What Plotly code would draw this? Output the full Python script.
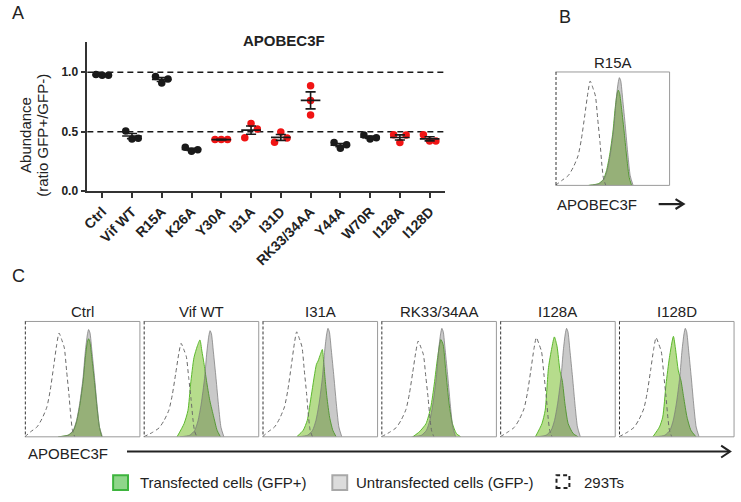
import plotly.graph_objects as go

W, H = 741, 502
FONT = "Arial, Liberation Sans, sans-serif"


def px(x):
    return x / W


def py(y):
    return 1 - y / H


# ---------------- Panel A data ----------------
categories = ["Ctrl", "Vif WT", "R15A", "K26A", "Y30A", "I31A", "I31D",
              "RK33/34AA", "Y44A", "W70R", "I128A", "I128D"]
rep1 = [0.980, 0.506, 0.964, 0.370, 0.434, 0.450, 0.412, 0.887, 0.409, 0.472, 0.475, 0.475]
rep2 = [0.975, 0.440, 0.909, 0.337, 0.434, 0.569, 0.497, 0.762, 0.362, 0.440, 0.409, 0.423]
rep3 = [0.975, 0.445, 0.942, 0.348, 0.434, 0.522, 0.448, 0.641, 0.390, 0.450, 0.472, 0.423]
highlight = [False, False, False, False, True, True, True, True, False, False, True, True]
y_ticks = [0.0, 0.5, 1.0]
ref_lines = [0.5, 1.0]

# ---------------- Histogram data (B and C) ----------------
hist_panels = ["R15A", "Ctrl", "Vif WT", "I31A", "RK33/34AA", "I128A", "I128D"]

# 293Ts (dashed) shape
dash_x = [0.0, 0.049, 0.106, 0.149, 0.191, 0.22, 0.249, 0.277, 0.297, 0.32,
          0.343, 0.363, 0.383, 0.4, 0.414, 0.434]
dash_y = [0.0, 0.043, 0.086, 0.157, 0.257, 0.4, 0.6, 0.8, 0.9, 0.843,
          0.771, 0.571, 0.371, 0.171, 0.057, 0.0]
dash_peak_x = [0.304, 0.297, 0.325, 0.297, 0.320, 0.314, 0.322]
dash_peak_h = [0.92, 0.90, 0.81, 0.91, 0.83, 0.86, 0.86]

# Untransfected (GFP-) shape, relative to its peak
gray_dx = [-0.263, -0.177, -0.134, -0.105, -0.077, -0.048, -0.028, -0.011, 0.0,
           0.012, 0.029, 0.052, 0.075, 0.095, 0.12]
gray_rel = [0.0, 0.015, 0.06, 0.15, 0.31, 0.55, 0.8, 0.95, 1.0,
            0.97, 0.8, 0.55, 0.28, 0.09, 0.0]
gray_peak_x = [0.560, 0.554, 0.577, 0.569, 0.526, 0.577, 0.576]
gray_peak_h = [0.95, 0.93, 0.92, 0.94, 0.94, 0.94, 0.94]

# Transfected (GFP+) curves per panel
green_x = [
    [0.29, 0.375, 0.418, 0.447, 0.475, 0.503, 0.523, 0.54, 0.55, 0.562, 0.58, 0.603, 0.626, 0.646, 0.667],
    [0.29, 0.377, 0.42, 0.449, 0.477, 0.506, 0.526, 0.543, 0.554, 0.566, 0.583, 0.606, 0.629, 0.649, 0.669],
    [0.29, 0.351, 0.385, 0.408, 0.437, 0.466, 0.489, 0.506, 0.523, 0.546, 0.575, 0.609, 0.638, 0.667],
    [0.297, 0.354, 0.389, 0.426, 0.469, 0.483, 0.503, 0.52, 0.531, 0.543, 0.56, 0.583, 0.611, 0.64],
    [0.273, 0.33, 0.388, 0.43, 0.46, 0.489, 0.517, 0.537, 0.56, 0.589, 0.618, 0.652, 0.69],
    [0.306, 0.363, 0.391, 0.42, 0.449, 0.471, 0.494, 0.52, 0.54, 0.563, 0.591, 0.634, 0.677],
    [0.294, 0.352, 0.38, 0.409, 0.438, 0.473, 0.49, 0.516, 0.539, 0.562, 0.591, 0.625, 0.669],
]
green_y = [
    [0, 0.015, 0.05, 0.13, 0.27, 0.47, 0.68, 0.81, 0.84, 0.81, 0.67, 0.46, 0.23, 0.07, 0],
    [0, 0.015, 0.05, 0.13, 0.27, 0.48, 0.69, 0.82, 0.85, 0.82, 0.68, 0.47, 0.24, 0.08, 0],
    [0, 0.114, 0.229, 0.457, 0.686, 0.786, 0.84, 0.743, 0.643, 0.486, 0.314, 0.171, 0.057, 0],
    [0, 0.057, 0.143, 0.371, 0.629, 0.657, 0.714, 0.757, 0.657, 0.514, 0.343, 0.171, 0.057, 0],
    [0, 0.043, 0.114, 0.257, 0.457, 0.686, 0.843, 0.8, 0.571, 0.286, 0.114, 0.029, 0],
    [0, 0.114, 0.229, 0.6, 0.771, 0.866, 0.786, 0.571, 0.486, 0.286, 0.114, 0.029, 0],
    [0, 0.086, 0.171, 0.457, 0.686, 0.871, 0.771, 0.571, 0.486, 0.343, 0.171, 0.057, 0],
]

legend_labels = ["Transfected cells (GFP+)", "Untransfected cells (GFP-)", "293Ts"]

# ---------------- Build figure ----------------
fig = go.Figure()

BLACK = "#1a1a1a"
RED = "#f01414"

# Panel A points
for i, cat in enumerate(categories):
    vals = [rep1[i], rep2[i], rep3[i]]
    spread = 0.0 if (max(vals) - min(vals)) > 0.15 else 0.21
    xs = [i - spread, i, i + spread]
    fig.add_trace(go.Scatter(
        x=xs, y=vals, mode="markers", xaxis="x", yaxis="y",
        marker=dict(size=7.5, color=RED if highlight[i] else BLACK, line=dict(width=0)),
        showlegend=False, hoverinfo="skip"))

# Mean and SEM
mx, my, ex, ey = [], [], [], []
for i in range(len(categories)):
    vals = [rep1[i], rep2[i], rep3[i]]
    m = sum(vals) / 3
    sd = (sum((v - m) ** 2 for v in vals) / 2) ** 0.5
    s = sd / 3 ** 0.5
    mx += [i - 0.33, i + 0.33, None]
    my += [m, m, None]
    ex += [i, i, None, i - 0.17, i + 0.17, None, i - 0.17, i + 0.17, None]
    ey += [m - s, m + s, None, m + s, m + s, None, m - s, m - s, None]
fig.add_trace(go.Scatter(x=mx, y=my, mode="lines", xaxis="x", yaxis="y",
                         line=dict(color=BLACK, width=1.6), showlegend=False, hoverinfo="skip"))
fig.add_trace(go.Scatter(x=ex, y=ey, mode="lines", xaxis="x", yaxis="y",
                         line=dict(color=BLACK, width=1.6), showlegend=False, hoverinfo="skip"))

shapes = []
for v in ref_lines:
    shapes.append(dict(type="line", xref="x domain", yref="y", x0=0, x1=1, y0=v, y1=v,
                       line=dict(color=BLACK, width=1.5, dash="6px,4px"), layer="below"))

# Histogram panels geometry (pixels)
box_left = [554] + [19 + 119.8 * k for k in range(6)]
box_width = [115] + [116] * 6
box_top = [73] + [326] * 6
box_bottom = [188] + [443] * 6

GREEN_FILL = "#b6dc8c"
GREEN_LINE = "#5cb82e"
GRAY_FILL = "rgba(77,77,77,0.30)"
GRAY_LINE = "rgba(120,120,120,0.9)"

layout_axes = {}
annotations = []
for k, name in enumerate(hist_panels):
    n = k + 2
    xa, ya = f"x{n}", f"y{n}"
    # green
    fig.add_trace(go.Scatter(x=green_x[k], y=green_y[k], mode="lines", xaxis=xa, yaxis=ya,
                             line=dict(color=GREEN_LINE, width=1, shape="spline", smoothing=0.6),
                             fill="tozeroy", fillcolor=GREEN_FILL,
                             showlegend=False, hoverinfo="skip"))
    # gray
    gx = [gray_peak_x[k] + d for d in gray_dx]
    gy = [gray_peak_h[k] * r for r in gray_rel]
    fig.add_trace(go.Scatter(x=gx, y=gy, mode="lines", xaxis=xa, yaxis=ya,
                             line=dict(color=GRAY_LINE, width=0.8, shape="spline", smoothing=0.6),
                             fill="tozeroy", fillcolor=GRAY_FILL,
                             showlegend=False, hoverinfo="skip"))
    # dashed 293Ts
    shift = dash_peak_x[k] - 0.297
    scale = dash_peak_h[k] / 0.9
    dx = [v + shift if v > 0 else v for v in dash_x]
    dy = [v * scale for v in dash_y]
    fig.add_trace(go.Scatter(x=dx, y=dy, mode="lines", xaxis=xa, yaxis=ya,
                             line=dict(color="#6a6a6a", width=1, dash="4px,3px",
                                       shape="spline", smoothing=0.6),
                             showlegend=False, hoverinfo="skip"))

    L, R = box_left[k], box_left[k] + box_width[k]
    T, B = box_top[k], box_bottom[k]
    layout_axes[f"xaxis{n}"] = dict(domain=[px(L), px(R)], range=[0, 1], visible=False,
                                    anchor=ya, fixedrange=True)
    layout_axes[f"yaxis{n}"] = dict(domain=[py(B), py(T)], range=[0, 1], visible=False,
                                    anchor=xa, fixedrange=True)
    frame = dict(color="#9a9a9a", width=1)
    shapes.append(dict(type="line", xref="paper", yref="paper", x0=px(L), x1=px(R),
                       y0=py(T), y1=py(T), line=frame))
    shapes.append(dict(type="line", xref="paper", yref="paper", x0=px(R), x1=px(R),
                       y0=py(T), y1=py(B), line=frame))
    shapes.append(dict(type="line", xref="paper", yref="paper", x0=px(L), x1=px(R),
                       y0=py(B), y1=py(B), line=frame))
    shapes.append(dict(type="line", xref="paper", yref="paper", x0=px(L + 0.5), x1=px(L + 0.5),
                       y0=py(T), y1=py(B), line=dict(color="#333", width=1, dash="3px,2px")))
    annotations.append(dict(text=name, xref="paper", yref="paper",
                            x=px((L + R) / 2), y=py(T - 10), xanchor="center", yanchor="middle",
                            showarrow=False, font=dict(family=FONT, size=15, color="#222")))

# Arrows
def chevron_arrow(x0, x1, y, head=8, half=5, width=2):
    shapes.append(dict(type="line", xref="paper", yref="paper", x0=px(x0), x1=px(x1 - 1),
                       y0=py(y), y1=py(y), line=dict(color="#222", width=width)))
    path = f"M {px(x1 - head)} {py(y - half)} L {px(x1)} {py(y)} L {px(x1 - head)} {py(y + half)}"
    shapes.append(dict(type="path", xref="paper", yref="paper", path=path,
                       line=dict(color="#222", width=width)))

chevron_arrow(122, 730, 458, head=9, half=6, width=2)
chevron_arrow(658, 683, 207, head=8, half=5, width=2.2)

# Legend swatches
shapes.append(dict(type="rect", xref="paper", yref="paper", x0=px(108), x1=px(123),
                   y0=py(497), y1=py(482), fillcolor="#8fd68a", line=dict(color="#3db43d", width=2)))
shapes.append(dict(type="rect", xref="paper", yref="paper", x0=px(329), x1=px(344),
                   y0=py(497), y1=py(482), fillcolor="#dcdcdc", line=dict(color="#a8a8a8", width=2)))
shapes.append(dict(type="rect", xref="paper", yref="paper", x0=px(555), x1=px(568),
                   y0=py(495), y1=py(482), fillcolor="rgba(0,0,0,0)",
                   line=dict(color="#222", width=2, dash="4px,3px")))

def text(t, x, y, size=15, xanchor="left", bold=False, angle=0, color="#222"):
    annotations.append(dict(text=t, xref="paper", yref="paper", x=px(x), y=py(y),
                            xanchor=xanchor, yanchor="middle", showarrow=False, textangle=angle,
                            font=dict(family=FONT, size=size, color=color,
                                      weight="bold" if bold else "normal")))

text(legend_labels[0], 133, 489)
text(legend_labels[1], 351, 489)
text(legend_labels[2], 581, 489)
text("APOBEC3F", 20, 460)
text("APOBEC3F", 553, 207)
text("APOBEC3F", 280, 41, size=15, xanchor="center", bold=True)
text("Abundance", 19, 137, size=15, xanchor="center", angle=-90)
text("(ratio GFP+/GFP-)", 36, 137, size=15, xanchor="center", angle=-90)
text("A", 4, 13, size=18)
text("B", 555, 17, size=18)
text("C", 4, 280, size=18)

fig.update_layout(
    width=W, height=H, margin=dict(l=0, r=0, t=0, b=0),
    paper_bgcolor="white", plot_bgcolor="rgba(0,0,0,0)",
    showlegend=False,
    font=dict(family=FONT, color="#222"),
    xaxis=dict(domain=[px(82), px(443)], range=[-0.5, 11.53], anchor="y",
               tickmode="array", tickvals=list(range(len(categories))), ticktext=categories,
               tickangle=-45, tickfont=dict(family=FONT, size=14, weight="bold", color="#222"),
               showline=True, linecolor="#333", linewidth=1.6, ticks="outside", ticklen=5,
               tickwidth=1.5, tickcolor="#333", showgrid=False, zeroline=False, fixedrange=True),
    yaxis=dict(domain=[py(194), py(43)], range=[0, 1.25], anchor="x",
               tickmode="array", tickvals=y_ticks, ticktext=[f"{v:.1f}" for v in y_ticks],
               tickfont=dict(family=FONT, size=12, weight="bold", color="#222"),
               showline=True, linecolor="#333", linewidth=1.6, ticks="outside", ticklen=5,
               tickwidth=1.5, tickcolor="#333", showgrid=False, zeroline=False, fixedrange=True),
    shapes=shapes, annotations=annotations,
    **layout_axes,
)

fig.write_html("out.html", config={"displayModeBar": False},
               post_script="document.body.style.margin='0';document.body.style.overflow='hidden';")
